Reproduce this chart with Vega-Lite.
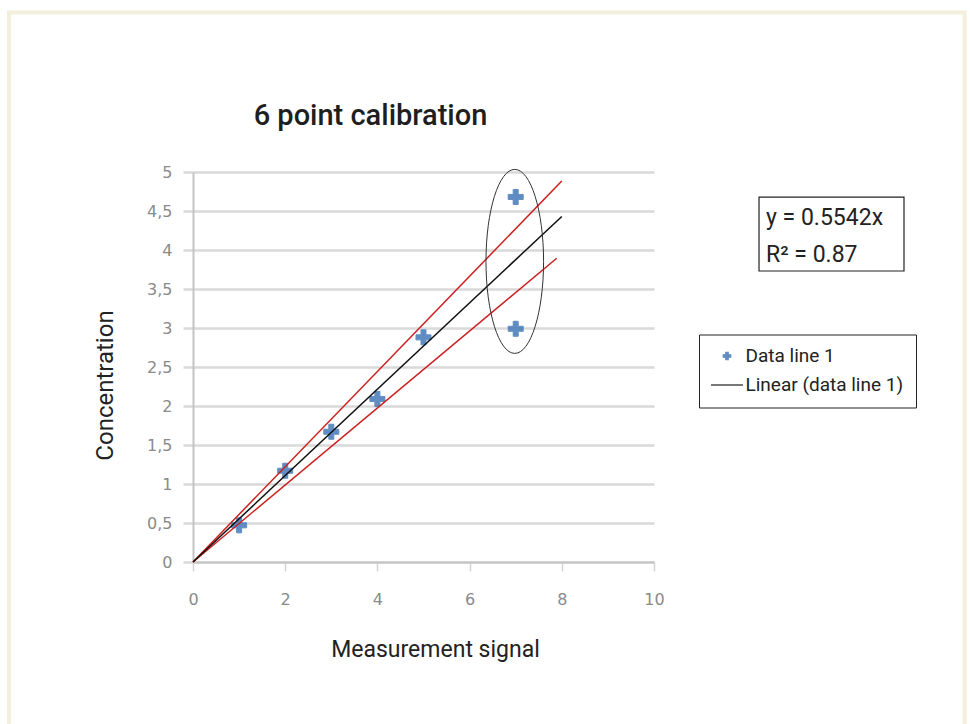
{
  "$schema": "https://vega.github.io/schema/vega-lite/v6.json",
  "width": 461,
  "height": 390,
  "autosize": "none",
  "padding": {"left": 193, "top": 172, "right": 316, "bottom": 162},
  "background": "white",
  "title": {
    "text": "6 point calibration",
    "font": "Roboto",
    "fontSize": 29,
    "fontWeight": 500,
    "color": "#1e1e1e",
    "anchor": "middle",
    "frame": "group",
    "dx": -53,
    "offset": -121
  },
  "config": {
    "view": {"stroke": null},
    "axis": {
      "labelFont": "DejaVu Sans",
      "labelFontSize": 16,
      "labelColor": "#8a8a8a",
      "titleFont": "Roboto",
      "titleFontWeight": "normal",
      "titleColor": "#222222",
      "domainColor": "#c4c4c4",
      "domainWidth": 2,
      "tickColor": "#d2d2d2",
      "gridColor": "#d9d9d9"
    },
    "axisY": {
      "tickCount": 11,
      "labelExpr": "replace(format(datum.value, '~g'), '.', ',')",
      "grid": true,
      "gridWidth": 2.5,
      "tickSize": 10,
      "tickWidth": 2.5,
      "tickColor": "#d9d9d9",
      "labelPadding": 11,
      "labelFlush": false,
      "labelOverlap": false
    },
    "axisX": {
      "tickCount": 6,
      "grid": false,
      "labelFlush": false,
      "labelOverlap": false,
      "tickSize": 9,
      "tickWidth": 1.5,
      "labelPadding": 20
    }
  },
  "datasets": {
    "points": [
      {"signal": 1, "concentration": 0.47, "series": "Data line 1"},
      {"signal": 2, "concentration": 1.17, "series": "Data line 1"},
      {"signal": 3, "concentration": 1.67, "series": "Data line 1"},
      {"signal": 4, "concentration": 2.09, "series": "Data line 1"},
      {"signal": 5, "concentration": 2.88, "series": "Data line 1"},
      {"signal": 7, "concentration": 4.68, "series": "Data line 1"},
      {"signal": 7, "concentration": 2.99, "series": "Data line 1"}
    ],
    "fits": [
      {"signal": 0, "concentration": 0, "line": "upper"},
      {"signal": 8, "concentration": 4.885, "line": "upper"},
      {"signal": 0, "concentration": 0, "line": "lower"},
      {"signal": 7.89, "concentration": 3.894, "line": "lower"},
      {"signal": 0, "concentration": 0, "line": "trend"},
      {"signal": 8, "concentration": 4.43, "line": "trend"}
    ]
  },
  "layer": [
    {
      "data": {"name": "points"},
      "mark": {"type": "point", "filled": true, "size": 400, "opacity": 0.88, "strokeWidth": 1},
      "encoding": {
        "x": {
          "field": "signal", "type": "quantitative",
          "scale": {"domain": [0, 10], "nice": false},
          "axis": {
            "title": "Measurement signal",
            "values": [0, 2, 4, 6, 8, 10],
            "tickCount": 6,
            "grid": false,
            "labelFlush": false,
            "titleFontSize": 23,
            "titleX": 242,
            "titleY": 94,
            "titleBaseline": "alphabetic",
            "titleAlign": "center"
          }
        },
        "y": {
          "field": "concentration", "type": "quantitative",
          "scale": {"domain": [0, 5], "nice": false},
          "axis": {
            "title": "Concentration",
            "values": [0, 0.5, 1, 1.5, 2, 2.5, 3, 3.5, 4, 4.5, 5],
            "tickCount": 11,
            "titleFontSize": 24,
            "titleAngle": -90,
            "titleX": -81,
            "titleY": 213,
            "titleBaseline": "alphabetic",
            "titleAlign": "center"
          }
        },
        "color": {
          "field": "series", "type": "nominal",
          "scale": {"domain": ["Data line 1", "Linear (data line 1)"], "range": ["#4a7ebb", "#000000"]},
          "legend": {
            "title": null,
            "orient": "none",
            "legendX": 506,
            "legendY": 162.5,
            "padding": 12,
            "strokeColor": "#222222",
            "fillColor": "white",
            "labelFont": "Roboto",
            "labelFontSize": 19,
            "labelColor": "#222222",
            "labelOffset": 9,
            "labelLimit": 400,
            "symbolOffset": 6.5,
            "rowPadding": 9,
            "symbolSize": 100,
            "symbolStrokeWidth": 1.2
          }
        },
        "stroke": {
          "field": "series", "type": "nominal",
          "scale": {"domain": ["Data line 1", "Linear (data line 1)"], "range": ["#4a7ebb", "#000000"]}
        },
        "shape": {
          "field": "series", "type": "nominal",
          "scale": {
            "domain": ["Data line 1", "Linear (data line 1)"],
            "range": ["M-0.75,-0.25H-0.25V-0.75H0.25V-0.25H0.75V0.25H0.25V0.75H-0.25V0.25H-0.75Z", "M-3.2,0H3.2"]
          }
        }
      }
    },
    {
      "data": {"values": [{}]},
      "mark": {"type": "rect", "fill": "transparent", "stroke": "#f2f0dc", "strokeWidth": 4},
      "encoding": {
        "x": {"datum": -3.991, "type": "quantitative", "scale": {"domain": [0, 10], "nice": false}},
        "x2": {"datum": 16.74},
        "y": {"datum": 7.045, "type": "quantitative", "scale": {"domain": [0, 5], "nice": false}},
        "y2": {"datum": -3}
      }
    },
    {
      "data": {"values": [{}]},
      "mark": {"type": "rect", "fill": "white", "stroke": "#222222", "strokeWidth": 1.2},
      "encoding": {
        "x": {"datum": 12.278, "type": "quantitative", "scale": {"domain": [0, 10], "nice": false}},
        "x2": {"datum": 15.423},
        "y": {"datum": 4.679, "type": "quantitative", "scale": {"domain": [0, 5], "nice": false}},
        "y2": {"datum": 3.731}
      }
    },
    {
      "data": {"values": [{}]},
      "mark": {"type": "text", "text": "y = 0.5542x", "align": "left", "baseline": "middle", "font": "Roboto", "fontSize": 23, "color": "#222222"},
      "encoding": {
        "x": {"datum": 12.43, "type": "quantitative", "scale": {"domain": [0, 10], "nice": false}},
        "y": {"datum": 4.41, "type": "quantitative", "scale": {"domain": [0, 5], "nice": false}}
      }
    },
    {
      "data": {"values": [{}]},
      "mark": {"type": "text", "text": "R² = 0.87", "align": "left", "baseline": "middle", "font": "Roboto", "fontSize": 23, "color": "#222222"},
      "encoding": {
        "x": {"datum": 12.43, "type": "quantitative", "scale": {"domain": [0, 10], "nice": false}},
        "y": {"datum": 3.936, "type": "quantitative", "scale": {"domain": [0, 5], "nice": false}}
      }
    },
    {
      "data": {"name": "fits"},
      "mark": {"type": "line", "strokeWidth": 1.5},
      "encoding": {
        "x": {"field": "signal", "type": "quantitative", "scale": {"domain": [0, 10], "nice": false}},
        "y": {"field": "concentration", "type": "quantitative", "scale": {"domain": [0, 5], "nice": false}},
        "detail": {"field": "line", "type": "nominal"},
        "color": {
          "condition": {"test": "datum.line === 'trend'", "value": "#111111"},
          "value": "#cc1f1f"
        }
      }
    },
    {
      "data": {"values": [{}]},
      "mark": {
        "type": "point",
        "shape": "M0,-1C0.1729,-1,0.313,-0.5523,0.313,0C0.313,0.5523,0.1729,1,0,1C-0.1729,1,-0.313,0.5523,-0.313,0C-0.313,-0.5523,-0.1729,-1,0,-1Z",
        "filled": false,
        "size": 33856,
        "stroke": "#333333",
        "strokeWidth": 1,
        "opacity": 1
      },
      "encoding": {
        "x": {"datum": 6.98, "type": "quantitative", "scale": {"domain": [0, 10], "nice": false}},
        "y": {"datum": 3.854, "type": "quantitative", "scale": {"domain": [0, 5], "nice": false}}
      }
    }
  ]
}
